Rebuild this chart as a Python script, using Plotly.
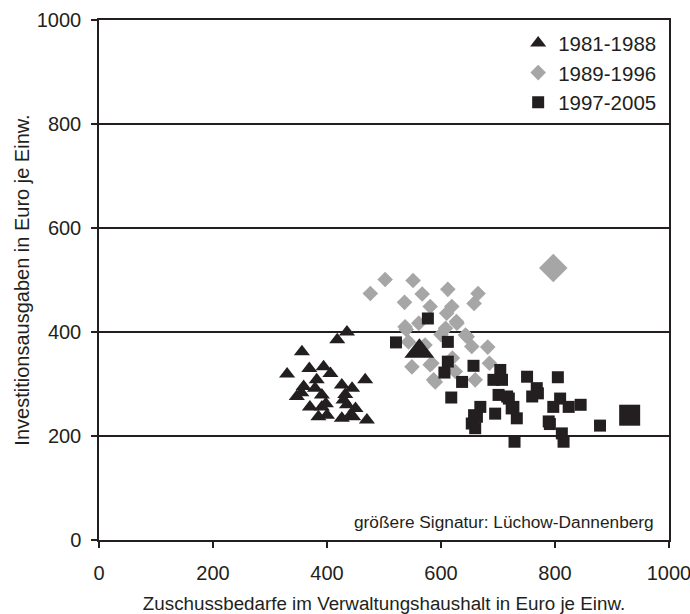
import plotly.graph_objects as go

# 1981-1988 (triangles)
tri_x = [330, 356, 418, 435, 369, 394, 406, 382, 359, 379, 347, 391, 467, 426, 444, 429, 370, 391, 385, 400, 426, 446, 470, 435, 450, 441, 432, 355, 398]
tri_y = [319, 362, 385, 400, 330, 333, 320, 308, 295, 292, 276, 279, 308, 298, 292, 269, 256, 256, 237, 240, 234, 237, 231, 260, 253, 240, 280, 283, 262]
# 1989-1996 (diamonds)
dia_x = [476, 502, 551, 536, 567, 612, 665, 658, 581, 619, 610, 627, 561, 539, 608, 643, 654, 682, 543, 572, 549, 581, 590, 685, 660, 625, 537, 628, 646, 584, 587, 620, 600]
dia_y = [474, 501, 499, 457, 473, 482, 474, 455, 449, 449, 436, 420, 417, 405, 407, 394, 372, 371, 381, 375, 333, 337, 304, 340, 308, 324, 410, 417, 391, 340, 308, 350, 395]
# 1997-2005 (squares)
sq_x = [577, 521, 612, 612, 606, 657, 704, 692, 707, 637, 751, 768, 618, 658, 654, 805, 770, 760, 716, 727, 733, 809, 797, 824, 845, 791, 812, 815, 729, 879, 669, 701, 719, 724, 695, 663, 660, 789]
sq_y = [426, 380, 381, 343, 322, 335, 327, 308, 308, 304, 314, 292, 274, 240, 224, 313, 282, 276, 276, 256, 234, 272, 256, 256, 260, 223, 205, 189, 189, 220, 256, 279, 272, 253, 243, 237, 215, 228]
# Lüchow-Dannenberg (larger symbols)
ld_tri_x, ld_tri_y = [562], [363]
ld_dia_x, ld_dia_y = [797], [523]
ld_sq_x, ld_sq_y = [931], [240]

series_names = ["1981-1988", "1989-1996", "1997-2005"]
x_ticks = [0, 200, 400, 600, 800, 1000]
y_ticks = [0, 200, 400, 600, 800, 1000]

BLACK = "#231f20"
GREY = "#a6a6a6"
FONT = "Liberation Sans, Arial, sans-serif"

fig = go.Figure()
fig.add_trace(go.Scatter(x=tri_x, y=tri_y, mode="markers", name=series_names[0],
                         marker=dict(symbol="triangle-up", size=14, color=BLACK, line=dict(width=0))))
fig.add_trace(go.Scatter(x=dia_x, y=dia_y, mode="markers", name=series_names[1],
                         marker=dict(symbol="diamond", size=12, color=GREY, line=dict(width=0))))
fig.add_trace(go.Scatter(x=sq_x, y=sq_y, mode="markers", name=series_names[2],
                         marker=dict(symbol="square", size=12, color=BLACK, line=dict(width=0))))
fig.add_trace(go.Scatter(x=ld_tri_x, y=ld_tri_y, mode="markers", showlegend=False,
                         marker=dict(symbol="triangle-up", size=26, color=BLACK, line=dict(width=0))))
fig.add_trace(go.Scatter(x=ld_dia_x, y=ld_dia_y, mode="markers", showlegend=False,
                         marker=dict(symbol="diamond", size=22, color=GREY, line=dict(width=0))))
fig.add_trace(go.Scatter(x=ld_sq_x, y=ld_sq_y, mode="markers", showlegend=False,
                         marker=dict(symbol="square", size=21, color=BLACK, line=dict(width=0))))

fig.update_layout(
    width=690, height=614,
    margin=dict(l=99, r=21, t=20, b=74),
    paper_bgcolor="white", plot_bgcolor="white",
    font=dict(family=FONT, color=BLACK, size=18),
    legend=dict(x=0.988, y=0.994, xanchor="right", yanchor="top",
                bgcolor="rgba(0,0,0,0)", font=dict(size=20.5, color=BLACK),
                itemsizing="trace", tracegroupgap=0, itemwidth=30),
    showlegend=True,
)
fig.update_xaxes(range=[0, 1000], tickvals=x_ticks, ticks="outside", ticklen=6,
                 tickcolor=BLACK, tickwidth=1.5, showgrid=False, zeroline=False,
                 showline=True, linecolor=BLACK, linewidth=1.5, mirror=True,
                 automargin=False, ticklabeloverflow="allow",
                 tickfont=dict(size=20, color=BLACK), ticklabelstandoff=8,
                 title=dict(text="Zuschussbedarfe im Verwaltungshaushalt in Euro je Einw.",
                            font=dict(size=18.8, color=BLACK), standoff=20))
fig.update_yaxes(range=[0, 1000], tickvals=y_ticks, ticks="outside", ticklen=6,
                 tickcolor=BLACK, tickwidth=1.5, showgrid=True, gridcolor=BLACK, gridwidth=1.5,
                 zeroline=False, showline=True, linecolor=BLACK, linewidth=1.5, mirror=True,
                 automargin=False, ticklabeloverflow="allow",
                 tickfont=dict(size=20, color=BLACK), ticklabelstandoff=6,
                 title=dict(text="Investitionsausgaben in Euro je Einw.",
                            font=dict(size=20, color=BLACK), standoff=2))
fig.add_annotation(text="größere Signatur: Lüchow-Dannenberg", xref="paper", yref="paper",
                   x=0.977, y=0.012, xanchor="right", yanchor="bottom", showarrow=False,
                   font=dict(size=17.3, color=BLACK))

fig.write_html("out.html", config={"displayModeBar": False},
               post_script="document.body.style.margin='0';document.body.style.overflow='hidden';")
